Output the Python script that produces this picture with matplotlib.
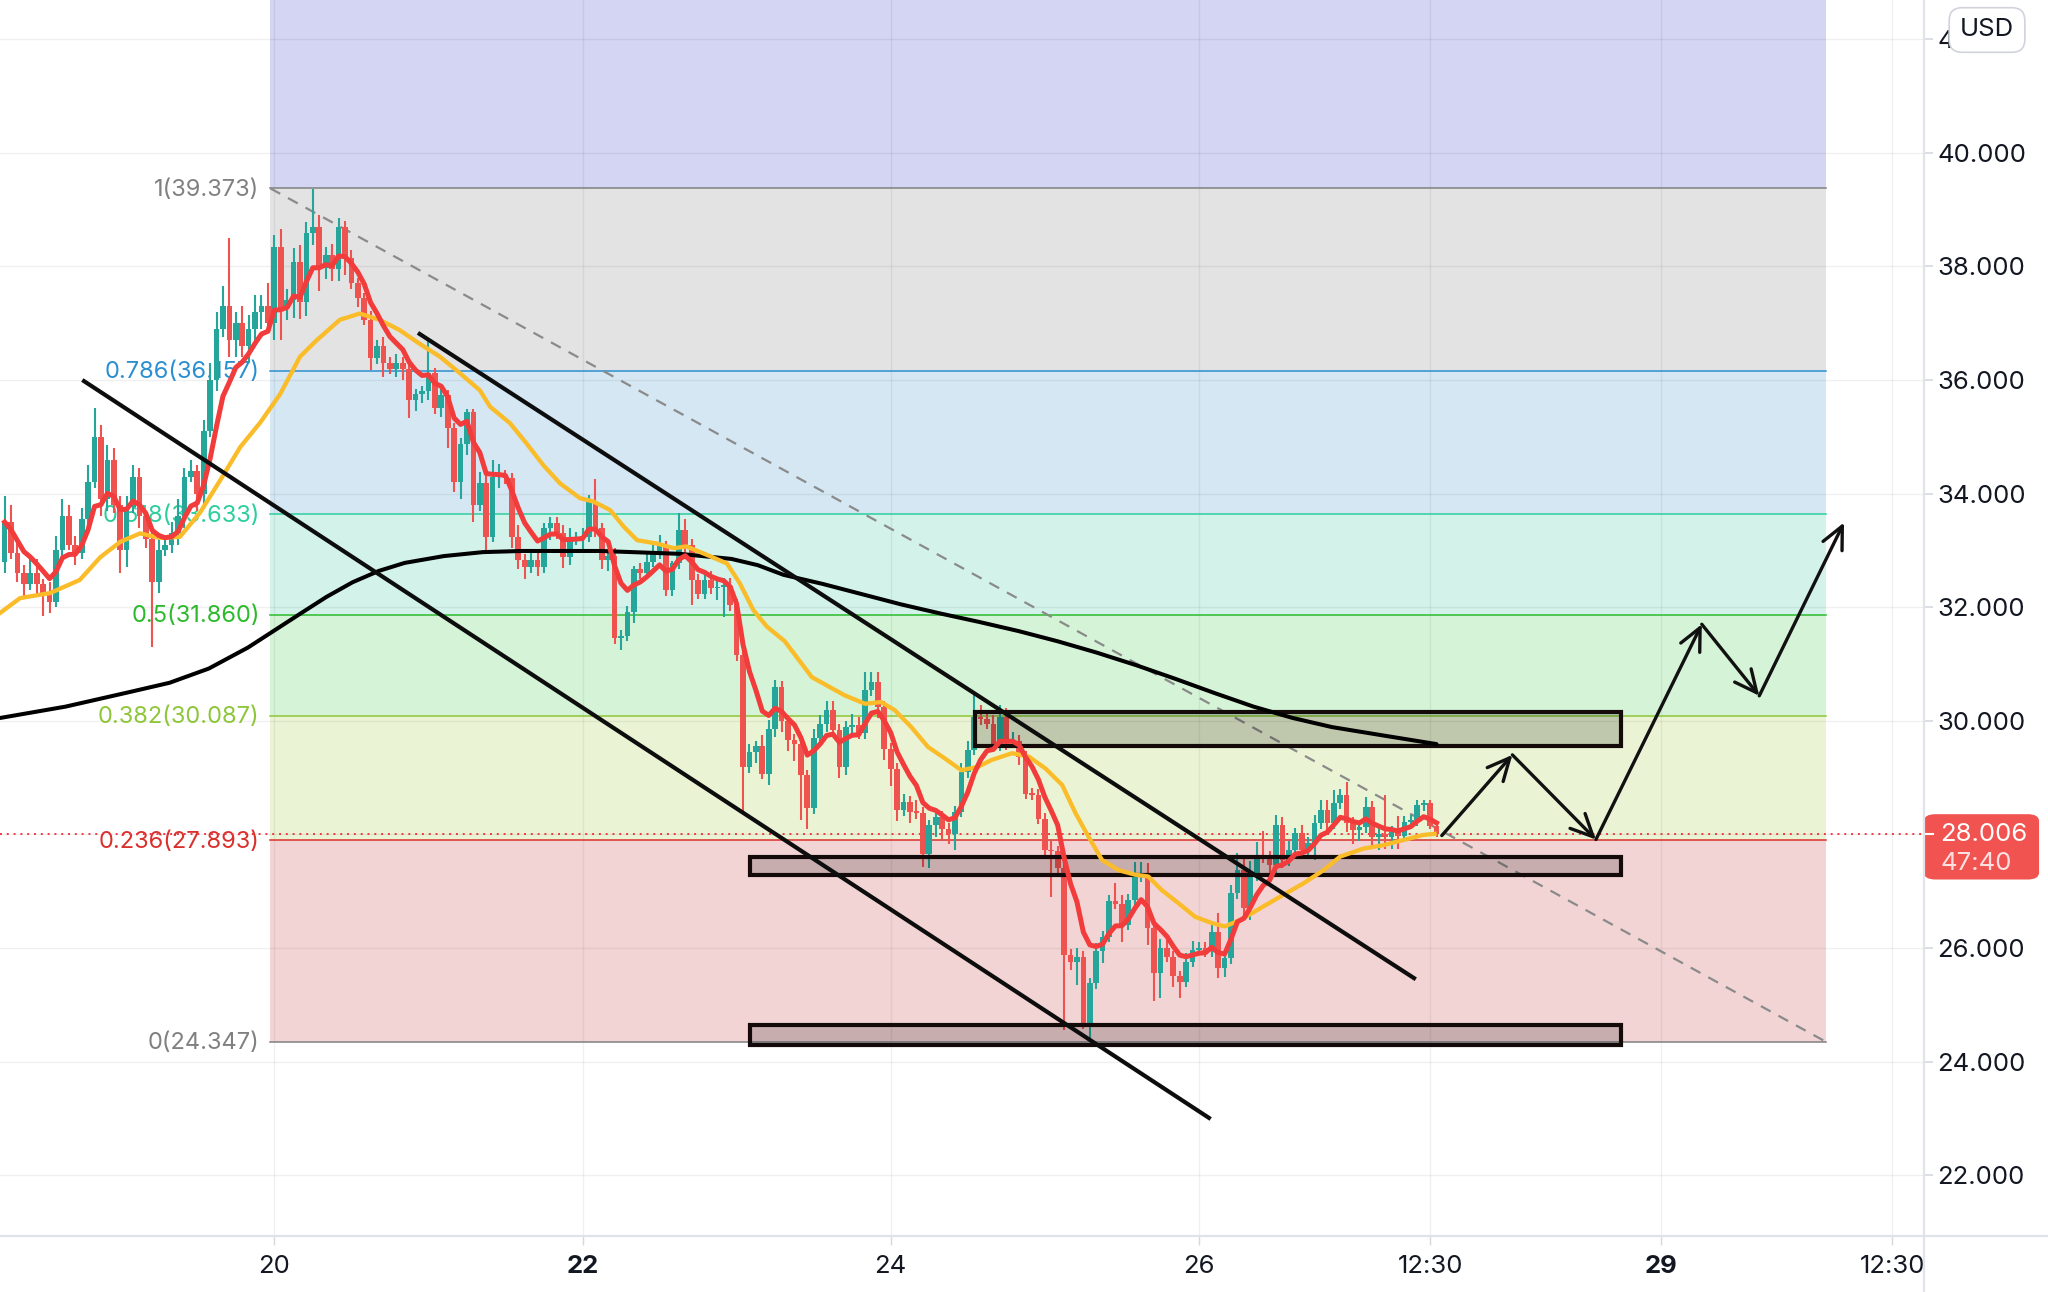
import matplotlib
matplotlib.use("Agg")
import matplotlib.pyplot as plt
import numpy as np
import pandas as pd
from matplotlib.patches import Rectangle, FancyBboxPatch
from matplotlib.lines import Line2D
from matplotlib.transforms import blended_transform_factory

plt.rcParams['font.family'] = ['Inter', 'DejaVu Sans']

# hourly candles, x measured in days of the month
first_candle = 18.25
first_open = 32.80
closes = [
    33.50, 32.95, 32.60, 32.40, 32.60, 32.40, 32.25, 32.10, 33.00, 33.60, 33.10, 32.95,
    33.55, 34.20, 35.00, 33.90, 34.60, 33.80, 33.00, 33.76, 34.30, 33.60, 33.20, 32.45,
    33.00, 33.10, 33.30, 33.60, 34.30, 34.40, 34.00, 35.10, 36.00, 36.90, 37.30, 36.70,
    37.00, 36.60, 36.90, 37.20, 37.30, 37.00, 38.35, 37.26, 37.40, 38.08, 37.38, 38.58,
    38.70, 37.97, 38.20, 37.95, 38.70, 38.14, 37.70, 37.44, 37.06, 36.38, 36.60, 36.30,
    36.20, 36.30, 36.20, 35.65, 35.75, 35.80, 36.12, 35.50, 35.73, 35.15, 34.21, 34.88,
    35.44, 33.80, 34.18, 33.24, 34.30, 34.32, 34.27, 33.24, 32.83, 32.70, 32.83, 32.70,
    33.39, 33.48, 33.30, 32.89, 33.20, 33.22, 33.24, 33.86, 33.39, 32.83, 32.90, 31.45,
    31.50, 31.92, 32.68, 32.60, 32.80, 32.95, 33.07, 32.30, 32.77, 33.36, 33.10, 32.48,
    32.24, 32.48, 32.33, 32.36, 32.37, 32.04, 31.16, 29.19, 29.45, 29.55, 29.07, 29.86,
    30.60, 30.00, 29.66, 29.60, 29.04, 28.46, 29.70, 29.95, 30.19, 29.84, 29.19, 29.89,
    29.92, 29.78, 30.54, 30.69, 30.25, 29.51, 29.16, 28.43, 28.57, 28.40, 28.38, 27.66,
    28.16, 28.31, 28.10, 28.00, 28.40, 29.10, 29.49, 30.07, 30.03, 29.95, 29.57, 30.07,
    29.63, 29.65, 29.37, 28.72, 28.70, 28.28, 27.73, 27.70, 27.40, 25.88, 25.76, 25.85,
    24.68, 25.38, 25.94, 26.20, 26.82, 26.78, 26.41, 26.85, 27.26, 27.32, 26.35, 25.56,
    26.00, 25.85, 25.50, 25.41, 25.76, 25.97, 26.00, 25.95, 26.29, 25.64, 25.82, 26.96,
    27.37, 26.70, 27.28, 27.61, 27.60, 27.46, 28.17, 27.55, 27.73, 28.02, 27.73, 27.85,
    28.20, 28.43, 28.20, 28.55, 28.70, 28.20, 28.08, 28.13, 28.49, 27.96, 28.00, 27.95,
    28.05, 27.98, 28.22, 28.25, 28.52, 28.55, 28.14, 28.006,
]
wick_up = [
    .45, .30, .20, .15, .30, .25, .10, .20, .25, .30, .20, .15,
    .20, .30, .50, .20, .25, .20, .15, .20, .20, .15, .10, .15,
    .20, .15, .20, .30, .15, .20, .10, .20, .30, .30, .35, 1.20,
    .20, .30, .25, .30, .20, .40, .20, .30, .20, .25, .30, .20,
    .67, .20, .15, .20, .15, .10, .15, .10, .10, .15, .10, .15,
    .10, .15, .10, .15, .10, .10, .58, .10, .15, .10, .10, .10,
    .05, .05, .20, .15, .30, .20, .10, .10, .20, .10, .15, .20,
    .10, .10, .10, .15, .20, .10, .15, .12, .40, .10, .10, .15,
    .10, .10, .05, .10, .15, .20, .20, .10, .05, .30, .20, .10,
    .10, .15, .15, .10, .15, .15, .10, .10, .15, .10, .20, .15,
    .12, .10, .10, .10, .10, .10, .15, .15, .15, .15, .10, .10,
    .20, .15, .32, .17, .17, .10, .10, .10, .15, .10, .20, .10,
    .10, .10, .10, .10, .10, .15, .15, .39, .20, .15, .15, .21,
    .15, .15, .10, .10, .10, .10, .10, .15, .10, .10, .10, .15,
    .10, .10, .15, .10, .11, .32, .15, .10, .26, .20, .17, .10,
    .15, .20, .10, .10, .15, .15, .10, .10, .15, .32, .10, .15,
    .30, .27, .25, .26, .45, .10, .17, .14, .15, .10, .15, .10,
    .15, .18, .18, .23, .10, .23, .10, .10, .17, .10, .15, .70,
    .10, .27, .10, .10, .09, .06, .05, .10,
]
wick_dn = [
    .20, .10, .15, .25, .10, .20, .40, .20, .10, .15, .10, .20,
    .10, .20, .10, .30, .20, .15, .40, .30, .10, .20, .15, 1.15,
    .20, .10, .15, .20, .20, .10, .30, .20, .10, .20, .15, .30,
    .30, .20, .30, .20, .30, .15, .30, .55, .20, .30, .30, .25,
    .20, .40, .20, .20, .20, .30, .10, .15, .10, .20, .10, .25,
    .10, .15, .20, .32, .20, .15, .15, .10, .15, .35, .18, .30,
    .20, .30, .10, .30, .10, .20, .10, .20, .15, .20, .10, .15,
    .10, .20, .10, .20, .15, .10, .20, .10, .15, .15, .20, .10,
    .20, .10, .20, .10, .10, .10, .10, .10, .10, .10, .20, .44,
    .10, .10, .10, .20, .54, .10, .10, .79, .10, .20, .10, .20,
    .15, .20, .20, .30, .79, .36, .10, .10, .15, .10, .20, .15,
    .10, .10, .10, .10, .20, .20, .30, .20, .10, .20, .10, .23,
    .25, .20, .20, .16, .28, .10, .10, .10, .10, .10, .10, .10,
    .15, .10, .15, .10, .10, .10, .10, .80, .10, 1.32, .15, .41,
    .10, .33, .10, .20, .10, .10, .30, .10, .10, .10, .30, .50,
    .44, .10, .18, .29, .10, .10, .10, .10, .10, .17, .15, .10,
    .10, .15, .20, .10, .10, .20, .20, .15, .10, .10, .10, .10,
    .30, .10, .15, .10, .10, .15, .24, .20, .10, .15, .24, .20,
    .20, .23, .10, .10, .10, .10, .05, .05,
]

# slow moving average (orange), read at candle index positions
orange_idx = [-0.7, 2.4, 7.1, 11.7, 14.9, 18, 21.1, 24.2, 27.3, 30.4, 33.6, 36.7, 39.8,
              42.9, 46, 48.6, 52.2, 55.3, 58.4, 61.5, 64.6, 67.8, 70.9, 74, 75.6, 78.7,
              81.3, 83.9, 86.5, 89.6, 91.7, 94.3, 96.4, 98.5, 101.6, 104.2, 106.2, 109.4,
              112.5, 114.5, 116.6, 118.7, 121.5, 125.7, 130.8, 134, 136.5, 138.6, 141.2,
              143.8, 146.4, 149, 151.6, 153.7, 156.9, 159.5, 162.1, 164.7, 166.8, 168.8,
              170.9, 173.5, 176.1, 178.1, 180.2, 182.8, 185.4, 188, 190, 192.4, 196, 198.6,
              202.3, 205.4, 208, 211.6, 214.7, 217.8, 220.9, 222.7]
orange_val = [31.90, 32.16, 32.25, 32.48, 32.88, 33.15, 33.30, 33.22, 33.24, 33.66, 34.24,
              34.82, 35.25, 35.75, 36.41, 36.70, 37.06, 37.17, 37.06, 36.88, 36.64, 36.41,
              36.12, 35.82, 35.53, 35.24, 34.88, 34.50, 34.18, 33.92, 33.86, 33.71, 33.42,
              33.18, 33.12, 33.04, 33.07, 32.92, 32.77, 32.42, 31.95, 31.66, 31.40, 30.77,
              30.45, 30.30, 30.33, 30.19, 29.89, 29.54, 29.34, 29.13, 29.19, 29.31, 29.43,
              29.37, 29.16, 28.87, 28.37, 27.96, 27.55, 27.37, 27.29, 27.26, 27.02, 26.79,
              26.55, 26.44, 26.38, 26.49, 26.73, 26.90, 27.14, 27.37, 27.61, 27.75, 27.81,
              27.90, 27.99, 28.01]

# long moving average (black)
black_idx = [-0.7, 9.5, 19.6, 25.7, 31.8, 37.9, 42.0, 46.1, 50.1, 54.2, 58.3, 62.3, 68.4,
             74.5, 80.6, 92.8, 105.1, 113.2, 117.3, 121.3, 127.4, 133.5, 139.6, 145.7,
             151.8, 157.9, 164.0, 170.1, 176.2, 182.3, 188.4, 194.5, 200.6, 206.7, 214.8,
             223.0]
black_val = [30.05, 30.25, 30.51, 30.67, 30.92, 31.29, 31.59, 31.89, 32.18, 32.44, 32.64,
             32.78, 32.90, 32.97, 32.99, 32.99, 32.94, 32.85, 32.74, 32.57, 32.41, 32.23,
             32.05, 31.89, 31.74, 31.58, 31.40, 31.20, 30.98, 30.74, 30.49, 30.25, 30.05,
             29.89, 29.74, 29.59]

fib_ratios = ['1', '0.786', '0.618', '0.5', '0.382', '0.236', '0']
fib_prices = [39.373, 36.157, 33.633, 31.860, 30.087, 27.893, 24.347]
last_price = 28.006
countdown = '47:40'

x_ticks = [20, 22, 24, 26, 27.5, 29, 30.5]
x_labels = ['20', '22', '24', '26', '12:30', '29', '12:30']
x_bold = ['22', '29']
y_ticks = [22, 24, 26, 28, 30, 32, 34, 36, 38, 40, 42]
hidden_tick = 28  # covered by the last price tag

# ---- drawings (days, price) ----
fib_x = (19.975, 30.07)
channel_lines = [((18.754, 36.00), (26.076, 22.99)),
                 ((20.932, 36.83), (27.407, 25.45))]
zones = [(24.547, 28.74, 29.55, 30.16),
         (23.087, 28.74, 27.28, 27.61),
         (23.087, 28.74, 24.30, 24.64)]
path_pts = [(27.576, 27.98), (28.034, 29.40), (28.576, 27.91),
            (29.263, 31.70), (29.636, 30.44), (30.186, 33.49)]

teal = '#26a69a'
red = '#ef5350'
fib_fill = ['#d4d4f3', '#e3e3e3', '#d4e7f3', '#d3f3ea', '#d5f3d6', '#eaf4d4', '#f3d4d4']
fib_col = ['#808080', '#2a8fd0', '#2ccf9c', '#2cba2c', '#8ec63a', '#d9302c', '#808080']

W, H = 2048, 1292
fig = plt.figure(figsize=(W / 100, H / 100), dpi=100)
ax = fig.add_axes([0, 1 - 1236 / H, 1924 / W, 1236 / H])
ax.set_xlim(18.22, 30.705)
ax.set_ylim(20.93, 42.69)
for s in ax.spines.values():
    s.set_visible(False)

# fib retracement zones
tops = [45] + fib_prices[:-1]
bots = fib_prices
for top, bot, fc in zip(tops, bots, fib_fill):
    ax.add_patch(Rectangle((fib_x[0], bot), fib_x[1] - fib_x[0], top - bot,
                           facecolor=fc, edgecolor='none', zorder=1))
for r, p, c in zip(fib_ratios, fib_prices, fib_col):
    ax.plot(fib_x, [p, p], color=c, lw=1.1, zorder=2.6)
    ax.text(fib_x[0] - 0.07, p - 0.02, f'{r}({p:.3f})', color=c, fontsize=17,
            ha='right', va='center', zorder=2.7)
ax.plot(fib_x, [fib_prices[0], fib_prices[-1]], color='#8a8a8a', lw=1.6,
        ls=(0, (5, 4)), zorder=2.6)

# grid
ax.set_axisbelow(False)
ax.grid(True, color='black', alpha=0.06, lw=1.0)
for gl in ax.get_xgridlines() + ax.get_ygridlines():
    gl.set_zorder(2.5)

# last price dotted line
ax.axhline(last_price, color='#f23645', lw=1.4, ls=(0, (1, 2.5)), zorder=2.8)

# candles
n = len(closes)
times = first_candle + np.arange(n) / 24
closes_a = np.array(closes)
opens_a = np.concatenate([[first_open], closes_a[:-1]])
body_lo = np.minimum(opens_a, closes_a)
body_hi = np.maximum(opens_a, closes_a)
highs = body_hi + np.array(wick_up)
lows = body_lo - np.array(wick_dn)
colors = [teal if c >= o else red for o, c in zip(opens_a, closes_a)]
ax.vlines(times, lows, highs, colors=colors, lw=1.5, zorder=2.9)
ax.bar(times, np.maximum(body_hi - body_lo, 0.03), bottom=body_lo, width=0.037,
       color=colors, linewidth=0, zorder=3)

# zones
for x0, x1, y0, y1 in zones:
    ax.add_patch(Rectangle((x0, y0), x1 - x0, y1 - y0, facecolor=(0, 0, 0, 0.18),
                           edgecolor='#140a0a', lw=3.0, zorder=3.5))

# moving averages
fast = pd.Series(closes_a).ewm(span=7, adjust=False).mean()
ax.plot(first_candle + np.array(black_idx) / 24, black_val, color='black', lw=2.9,
        zorder=4, solid_capstyle='round', solid_joinstyle='round')
ax.plot(first_candle + np.array(orange_idx) / 24, orange_val, color='#fbbc2a', lw=3.1,
        zorder=4.1, solid_joinstyle='round')
ax.plot(times, fast, color='#f23c3c', lw=3.6, zorder=4.2, solid_joinstyle='round')

# channel
for (x0, y0), (x1, y1) in channel_lines:
    ax.plot([x0, x1], [y0, y1], color='#0d0d0d', lw=3.0, zorder=5, solid_capstyle='butt')

# projected path
for a, b in zip(path_pts[:-1], path_pts[1:]):
    ax.annotate('', xy=b, xytext=a,
                arrowprops=dict(arrowstyle='->,head_length=0.8,head_width=0.38',
                                lw=2.4, color='#111111', shrinkA=0, shrinkB=0,
                                mutation_scale=20), zorder=5)

# axes ticks
ax.yaxis.tick_right()
ax.set_yticks(y_ticks)
ax.set_yticklabels(['' if v == hidden_tick else f'{v:.3f}' for v in y_ticks])
ax.tick_params(axis='y', length=6.5, width=1.2, color='#d6d8de', labelsize=18.5,
               labelcolor='#131722', pad=3)
ax.set_xticks(x_ticks)
ax.set_xticklabels(x_labels)
ax.tick_params(axis='x', length=6.5, width=1.0, color='#d6d8de', labelsize=18.5,
               labelcolor='#131722', pad=7)
for lab in ax.get_xticklabels():
    if lab.get_text() in x_bold:
        lab.set_fontweight('bold')

# axis separators
fig.add_artist(Line2D([1924 / W, 1924 / W], [0, 1], color='#e0e3eb', lw=1.6))
fig.add_artist(Line2D([0, 1], [1 - 1236 / H, 1 - 1236 / H], color='#e0e3eb', lw=1.6))

# last price tag on the scale
bt = blended_transform_factory(ax.transAxes, ax.transData)
ax.add_patch(FancyBboxPatch((1.0, last_price - 0.80), 0.0598, 1.15,
                            boxstyle='round,pad=0,rounding_size=0.006',
                            transform=bt, facecolor='#f05350', edgecolor='none',
                            clip_on=False, zorder=10, mutation_aspect=20))
ax.plot([1.0, 1.0045], [last_price, last_price], transform=bt, color='white', lw=1.5,
        clip_on=False, zorder=11)
ax.text(1.0085, last_price, f'{last_price:.3f}', transform=bt, color='white',
        fontsize=18.5, ha='left', va='center', zorder=11, clip_on=False)
ax.text(1.0085, last_price - 0.51, countdown, transform=bt, color='#fde0df',
        fontsize=18.5, ha='left', va='center', zorder=11, clip_on=False)

fig.text(1987 / W, 1 - 30 / H, 'USD', fontsize=18.5, color='#131722', ha='center',
         va='center', zorder=20,
         bbox=dict(boxstyle='round,pad=0.42,rounding_size=0.5', fc='white',
                   ec='#d1d4dc', lw=1.2))

fig.savefig('out.png', dpi=100, facecolor='white')
